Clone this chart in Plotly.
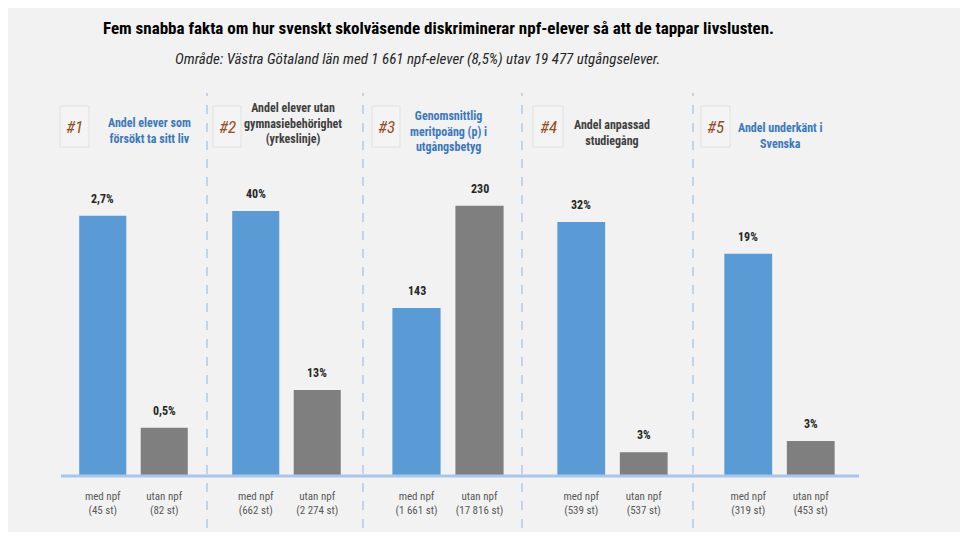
import plotly.graph_objects as go

# page body has an 8px margin; the figure is placed at (8, 8)
OFF = 8
W, H = 960, 530

# ---- data ----
categories = ["med npf", "utan npf"]
med_counts = ["45 st", "662 st", "1 661 st", "539 st", "319 st"]
utan_counts = ["82 st", "2 274 st", "17 816 st", "537 st", "453 st"]
med_values = [2.7, 40, 143, 32, 19]
utan_values = [0.5, 13, 230, 3, 3]
med_labels = ["2,7%", "40%", "143", "32%", "19%"]
utan_labels = ["0,5%", "13%", "230", "3%", "3%"]
panel_ids = ["#1", "#2", "#3", "#4", "#5"]
panel_headers = [
    "Andel elever som<br>försökt ta sitt liv",
    "Andel elever utan<br>gymnasiebehörighet<br>(yrkeslinje)",
    "Genomsnittlig<br>meritpoäng (p) i<br>utgångsbetyg",
    "Andel anpassad<br>studiegång",
    "Andel underkänt i<br>Svenska",
]
header_blue = [True, False, True, False, True]
title = "Fem snabba fakta om hur svenskt skolväsende diskriminerar npf-elever så att de tappar livslusten."
subtitle = "Område: Västra Götaland län med 1 661 npf-elever (8,5%) utav 19 477 utgångselever."

# ---- layout (pixel geometry in screen coordinates) ----
y_max = [3.07, 44.7, 252, 37.3, 25.3]
x_dom_px = [(72, 195), (225, 348), (385, 511), (550, 675), (717, 842)]
y_dom_px = (476, 180)
header_x = [149, 293, 448, 612, 780]
header_y = [131, 124, 132, 133, 136]
box_x = [(60, 89), (213, 241), (372, 400), (533, 563), (701, 730)]
dividers = [207, 363, 522, 693]

BLUE = "#5b9bd5"
GRAY = "#7f7f7f"
BG = "#f2f2f2"
FONT = "Liberation Sans Narrow, Roboto Condensed, DejaVu Sans Condensed, Roboto, sans-serif"


def px(x):
    return (x - OFF) / W


def py(y):
    return 1 - (y - OFF) / H


fig = go.Figure()
annotations = []
shapes = []

shapes.append(dict(type="rect", xref="paper", yref="paper", x0=px(8), x1=px(963), y0=py(532), y1=py(8),
                   fillcolor=BG, line=dict(width=0), layer="below"))

for i in range(5):
    xa = "x" if i == 0 else f"x{i+1}"
    ya = "y" if i == 0 else f"y{i+1}"
    fig.add_trace(go.Bar(
        x=categories, y=[med_values[i], utan_values[i]],
        marker=dict(color=[BLUE, GRAY], line=dict(width=0)),
        xaxis=xa, yaxis=ya, showlegend=False, hoverinfo="skip",
    ))
    ticktext = [f"med npf<br>({med_counts[i]})", f"utan npf<br>({utan_counts[i]})"]
    xk = "xaxis" if i == 0 else f"xaxis{i+1}"
    yk = "yaxis" if i == 0 else f"yaxis{i+1}"
    fig.layout[xk] = dict(domain=[px(x_dom_px[i][0]), px(x_dom_px[i][1])], anchor=ya,
                          tickvals=categories, ticktext=ticktext, showgrid=False, zeroline=False,
                          showline=False, ticks="", ticklabelstandoff=12,
                          tickfont=dict(family=FONT, size=11, color="#595959"), fixedrange=True)
    fig.layout[yk] = dict(domain=[py(y_dom_px[0]), py(y_dom_px[1])], anchor=xa, range=[0, y_max[i]],
                          visible=False, fixedrange=True)
    for cat, val, lab in zip(categories, [med_values[i], utan_values[i]], [med_labels[i], utan_labels[i]]):
        annotations.append(dict(x=cat, y=val, xref=xa, yref=ya, text=f"<b>{lab}</b>", showarrow=False,
                                xanchor="center", yanchor="bottom", yshift=8,
                                font=dict(family=FONT, size=12, color="#262626")))
    # header box
    bx0, bx1 = box_x[i]
    shapes.append(dict(type="rect", xref="paper", yref="paper", x0=px(bx0), x1=px(bx1), y0=py(147), y1=py(106),
                       fillcolor="#f4f4f4", line=dict(color="#e0e0e0", width=1)))
    annotations.append(dict(x=px((bx0 + bx1) / 2), y=py(127), xref="paper", yref="paper",
                            xanchor="center", yanchor="middle",
                            text=f"<i>{panel_ids[i]}</i>", showarrow=False,
                            font=dict(family=FONT, size=17, color="#9a4a1c")))
    annotations.append(dict(x=px(header_x[i]), y=py(header_y[i]), xref="paper", yref="paper",
                            xanchor="center", yanchor="middle",
                            text=f"<b>{panel_headers[i]}</b>", showarrow=False, align="center",
                            font=dict(family=FONT, size=12,
                                      color="#3a78c0" if header_blue[i] else "#404040")))

for d in dividers:
    shapes.append(dict(type="line", xref="paper", yref="paper", x0=px(d), x1=px(d), y0=py(528), y1=py(93),
                       line=dict(color="#8fb6de", width=1, dash="dash")))

shapes.append(dict(type="line", xref="paper", yref="paper", x0=px(61), x1=px(859), y0=py(476), y1=py(476),
                   line=dict(color="#a9c6e8", width=3)))

annotations.append(dict(x=px(438), y=py(28), xref="paper", yref="paper", text=f"<b>{title}</b>",
                        xanchor="center", yanchor="middle",
                        showarrow=False, font=dict(family=FONT, size=17, color="#000000")))
annotations.append(dict(x=px(417), y=py(59), xref="paper", yref="paper", text=f"<i>{subtitle}</i>",
                        xanchor="center", yanchor="middle",
                        showarrow=False, font=dict(family=FONT, size=15, color="#262626")))

fig.update_layout(width=W, height=H, margin=dict(l=0, r=0, t=0, b=0),
                  paper_bgcolor="white", plot_bgcolor="rgba(0,0,0,0)",
                  bargap=0.235, annotations=annotations, shapes=shapes)

fig.write_html("out.html", config={"displayModeBar": False})
